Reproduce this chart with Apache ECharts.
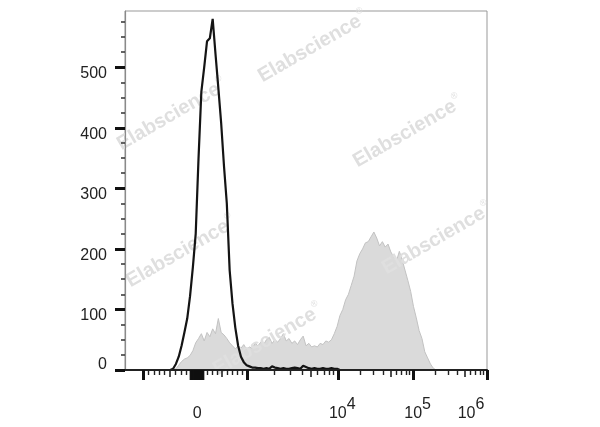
<!DOCTYPE html>
<html><head><meta charset="utf-8">
<script src="https://cdn.jsdelivr.net/npm/echarts@6/dist/echarts.min.js"></script>
<style>html,body{margin:0;padding:0;background:#fff}#c{width:600px;height:427px}</style>
</head><body><div id="c"></div>
<script>
// ---- data: histograms on a 0..1024 display-channel scale, bins of 8 channels ----
const binWidth = 8;
const grayStartBin = 17;
const grayCounts = [0, 2, 8, 14, 18, 20, 24, 32, 45, 52, 60, 48, 62, 55, 68, 60, 85, 62, 58, 52,
  45, 40, 35, 40, 36, 42, 34, 38, 36, 44, 40, 46, 42, 50, 54, 44, 50, 46, 52, 60,
  48, 52, 44, 48, 42, 50, 56, 40, 44, 38, 40, 38, 44, 42, 48, 46, 50, 60, 72, 90,
  100, 116, 125, 140, 155, 180, 192, 200, 210, 212, 220, 228, 218, 205, 212, 203, 208, 195, 187, 180,
  196, 182, 165, 148, 130, 105, 86, 65, 52, 30, 20, 10, 3, 0];
const blackStartBin = 16;
const blackCounts = [0, 2, 10, 22, 40, 62, 85, 122, 170, 225, 350, 460, 500, 543, 548, 580, 522, 466, 408, 337,
  275, 165, 110, 70, 40, 22, 13, 8, 6, 4, 4, 3, 3, 2, 3, 2, 6, 4, 3, 2,
  3, 2, 2, 3, 4, 3, 2, 7, 5, 3, 2, 3, 2, 2, 3, 2, 2, 3, 2, 2, 0];

// ---- axis definitions ----
const yTickValues = [0, 100, 200, 300, 400, 500];
const yMinorTickValues = [25, 50, 75, 125, 150, 175, 225, 250, 275, 325, 350, 375, 425, 450, 475, 525, 550, 575];
const yMax = 593;
// logicle-like display scale: intensity anchors and the display channels they sit at
const decadeValues = [-1000, 0, 1000, 1e4, 1e5, 1e6];
const decadeChannels = [51, 204, 346, 602, 815, 1024];
const xLabelValues = [0, 1e4, 1e5, 1e6];
const xLabelBase = ['0', '10', '10', '10'];
const xLabelExp = ['', '4', '5', '6'];

function toChannel(v) {
  for (let k = 0; k < decadeValues.length - 1; k++) {
    const a = decadeValues[k], b = decadeValues[k + 1];
    if (v >= a && v <= b) {
      let t;
      if (a >= 1000) t = (Math.log10(v) - Math.log10(a)) / (Math.log10(b) - Math.log10(a));
      else t = (v - a) / (b - a);
      return decadeChannels[k] + t * (decadeChannels[k + 1] - decadeChannels[k]);
    }
  }
  return v < 0 ? decadeChannels[0] : decadeChannels[decadeChannels.length - 1];
}

const majorCh = decadeValues.map(toChannel);
const midCh = [-500, 500, 5e3, 5e4, 5e5].map(toChannel);
const minorVals = [];
for (let m = 2; m <= 9; m++) { if (m !== 5) { minorVals.push(-100 * m, 100 * m); } }
[1e3, 1e4, 1e5].forEach(d => { for (let m = 2; m <= 9; m++) if (m !== 5) minorVals.push(m * d); });
const minorCh = minorVals.map(toChannel);
const clusterVals = [];
for (let m = 1; m <= 13; m++) clusterVals.push(-10 * m, 10 * m);
const clusterCh = clusterVals.map(toChannel);
const labelCh = xLabelValues.map(toChannel);

const grayData = grayCounts.map((c, i) => [(grayStartBin + i) * binWidth, c]);
const blackData = blackCounts.map((c, i) => [(blackStartBin + i) * binWidth, c]);

const FONT = '"Liberation Sans", Arial, Helvetica, sans-serif';

function xAxisBase(extra) {
  return Object.assign({
    type: 'value', min: 0, max: 1024, position: 'bottom', offset: 0,
    axisLine: { show: false, onZero: false },
    axisLabel: { show: false },
    splitLine: { show: false },
    z: 5
  }, extra);
}

const chart = echarts.init(document.getElementById('c'), null, { renderer: 'canvas' });
const WM = '#dfdfdf';
const wmRich = {
  a: { fontSize: 20, fontWeight: 'bold', fontFamily: FONT, fill: WM },
  r: { fontSize: 9, fontFamily: FONT, fill: WM, padding: [0, 0, 16, 1] }
};
const wmPos = [[313, 47], [172, 115], [408, 132], [181, 252], [437, 239], [268, 340]];

chart.setOption({
  animation: false,
  backgroundColor: '#ffffff',
  grid: { left: 125, right: 113, top: 11, bottom: 57, show: true, borderColor: '#999', borderWidth: 1, backgroundColor: 'transparent' },
  xAxis: [
    xAxisBase({
      axisLine: { show: true, onZero: false, lineStyle: { color: '#222', width: 2 } },
      axisTick: { show: true, customValues: majorCh, length: 10, lineStyle: { color: '#111', width: 3 } },
      axisLabel: {
        show: true, customValues: labelCh, margin: 44, verticalAlign: 'middle',
        formatter: function (val) {
          let best = 0;
          labelCh.forEach((c, i) => { if (Math.abs(c - val) < Math.abs(labelCh[best] - val)) best = i; });
          const b = xLabelBase[best], e = xLabelExp[best];
          if (!e) return '{b|' + b + '}';
          if (best === xLabelBase.length - 1) return '{b|' + b + '}{s|' + e + '}{sp2| }';
          return '{sp| }{b|' + b + '}{s|' + e + '}';
        },
        rich: {
          b: { fontSize: 16, fontFamily: FONT, color: '#222', verticalAlign: 'middle' },
          s: { fontSize: 16, fontFamily: FONT, color: '#222', verticalAlign: 'middle', padding: [0, 0, 19, 0] },
          sp: { width: 9, fontSize: 16, verticalAlign: 'middle' },
          sp2: { width: 32, fontSize: 16, verticalAlign: 'middle' }
        }
      }
    }),
    xAxisBase({ axisTick: { show: true, customValues: midCh, length: 7, lineStyle: { color: '#222', width: 1.6 } } }),
    xAxisBase({ axisTick: { show: true, customValues: minorCh, length: 5, lineStyle: { color: '#222', width: 1.4 } } }),
    xAxisBase({ axisTick: { show: true, customValues: clusterCh, length: 10, lineStyle: { color: '#111', width: 1.4 } } })
  ],
  yAxis: [
    {
      type: 'value', min: 0, max: yMax, interval: 100, position: 'left',
      axisLine: { show: true, onZero: false, lineStyle: { color: '#8a8a8a', width: 1.2 } },
      axisTick: { show: true, customValues: yTickValues, length: 10, lineStyle: { color: '#111', width: 3 } },
      splitLine: { show: false },
      axisLabel: {
        show: true, customValues: yTickValues, margin: 18, verticalAlign: 'middle',
        formatter: function (v) { return v === 0 ? '{z|0}' : '{n|' + v + '}'; },
        rich: {
          n: { fontSize: 16, fontFamily: FONT, color: '#222', padding: [13, 0, 0, 0] },
          z: { fontSize: 16, fontFamily: FONT, color: '#222', padding: [0, 0, 10, 0] }
        }
      },
      z: 5
    },
    {
      type: 'value', min: 0, max: yMax, interval: 100, position: 'left', offset: 0,
      axisLine: { show: false },
      axisTick: { show: true, customValues: yMinorTickValues, length: 4, lineStyle: { color: '#333', width: 1.5 } },
      axisLabel: { show: false },
      splitLine: { show: false },
      z: 5
    }
  ],
  graphic: wmPos.map(p => ({
    type: 'text', x: p[0], y: p[1], rotation: Math.PI / 6, z: 3, silent: true,
    style: { text: '{a|Elabscience}{r|®}', rich: wmRich, align: 'center', verticalAlign: 'middle',
      fontSize: 20, fontWeight: 'bold', fontFamily: FONT, fill: WM }
  })),
  series: [
    {
      type: 'line', name: 'stained', data: grayData, xAxisIndex: 0, yAxisIndex: 0,
      showSymbol: false, symbol: 'none', z: 2,
      lineStyle: { color: '#c2c2c2', width: 1 },
      areaStyle: { color: '#dadada', opacity: 1 }
    },
    {
      type: 'line', name: 'control', data: blackData, xAxisIndex: 0, yAxisIndex: 0,
      showSymbol: false, symbol: 'none', z: 4,
      lineStyle: { color: '#141414', width: 2.2 }
    }
  ]
});
</script></body></html>
